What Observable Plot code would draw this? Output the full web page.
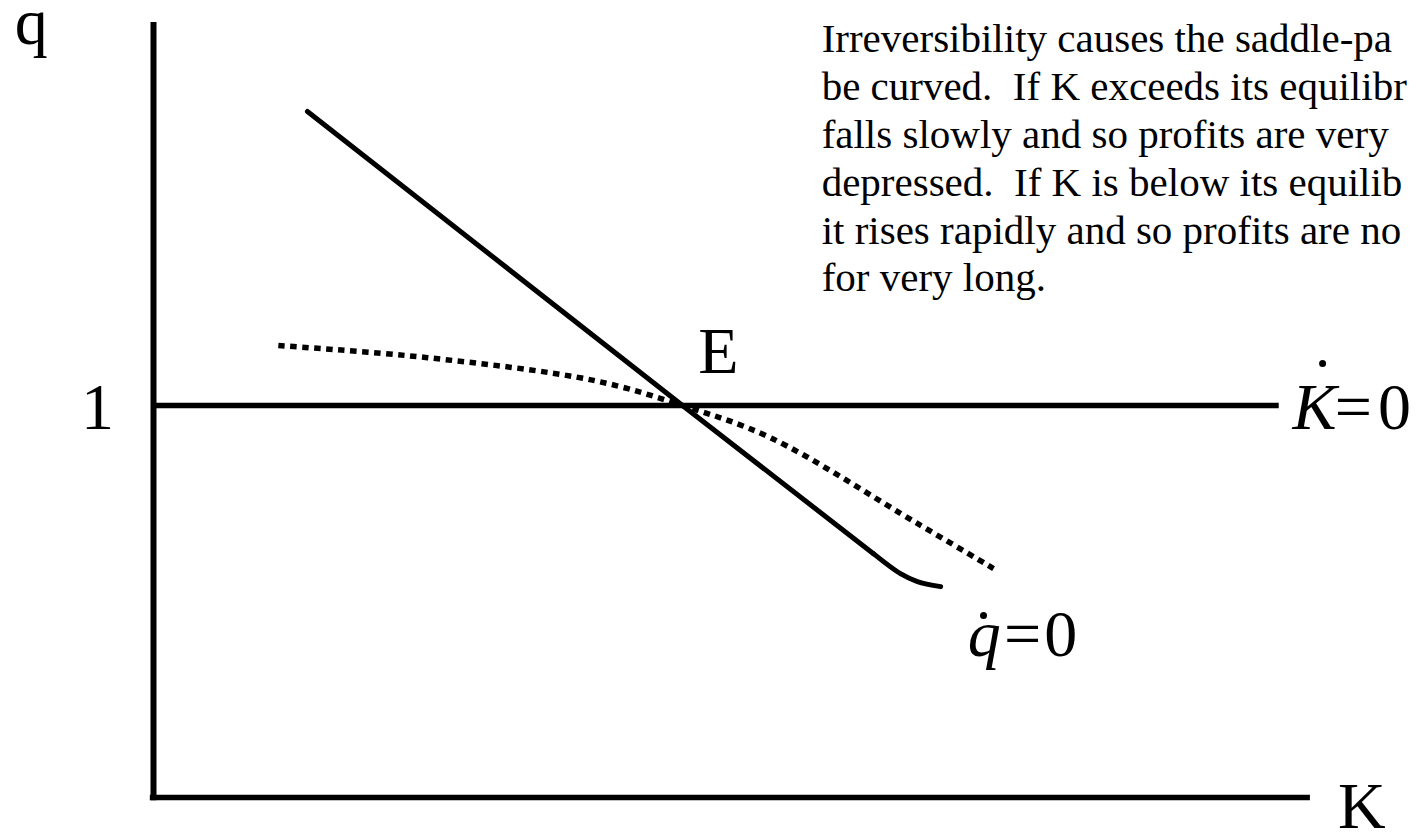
<!DOCTYPE html>
<html>
<head>
<meta charset="utf-8">
<script src="https://cdn.jsdelivr.net/npm/d3@7"></script>
<script src="https://cdn.jsdelivr.net/npm/@observablehq/plot@0.6"></script>
<style>
  html, body { margin: 0; padding: 0; background: #fff; overflow: hidden; }
  #chart svg { display: block; }
</style>
</head>
<body>
<div id="chart"></div>
<script>
// Saddle path (straight part through E, then the curved tail)
const saddleK = [0.291, 1.0, 1.361];
const saddleQ = [1.750, 1.0, 0.622];
const tailK = [1.361, 1.412, 1.444, 1.488];
const tailQ = [0.622, 0.571, 0.551, 0.538];
// q-dot = 0 locus (dotted)
const locusK = [0.236, 0.518, 0.832, 1.0, 1.166, 1.444, 1.588];
const locusQ = [1.153, 1.122, 1.064, 1.0, 0.918, 0.699, 0.584];
// K-dot = 0 locus (q = 1)
const steadyQ = [1];
const steadyEnd = 2.128;
// axes extents
const kAxisEnd = 2.187;
const qAxisEnd = 1.977;

const paragraph = [
  "Irreversibility causes the saddle-pa",
  "be curved.  If K exceeds its equilibr",
  "falls slowly and so profits are very",
  "depressed.  If K is below its equilib",
  "it rises rapidly and so profits are no",
  "for very long."
];

// annotation anchors (data units)
const bigLabels = [
  {k: -0.231, q: 1.923, t: "q"},
  {k: -0.106, q: 0.941, t: "1"},
  {k: 1.068, q: 1.084, t: "E"},
  {k: 2.284, q: -0.077, t: "K"}
];
const eqItalic = [
  {k: 2.153, q: 0.941, t: "K"},
  {k: 1.539, q: 0.362, t: "q"}
];
const eqUpright = [
  {k: 2.268, q: 0.941, t: "="},
  {k: 2.346, q: 0.941, t: "0"},
  {k: 1.643, q: 0.362, t: "="},
  {k: 1.715, q: 0.362, t: "0"}
];
const eqDots = [
  {k: 2.210, q: 1.107},
  {k: 1.569, q: 0.464}
];
const noteAnchor = [{k: 1.263, q: 1.291, t: paragraph.join("\n")}];

const serif = "'Liberation Serif', 'Times New Roman', serif";

const chart = Plot.plot({
  width: 1416,
  height: 832,
  margin: 0,
  x: {domain: [0, 1], range: [153, 682], axis: null},
  y: {domain: [0, 1], range: [797, 405], axis: null},
  style: {background: "white", color: "black"},
  marks: [
    Plot.ruleX([0], {y1: -0.008, y2: qAxisEnd, stroke: "black", strokeWidth: 6}),
    Plot.ruleY([0], {x1: -0.006, x2: kAxisEnd, stroke: "black", strokeWidth: 5.5}),
    Plot.ruleY(steadyQ, {x1: 0, x2: steadyEnd, stroke: "black", strokeWidth: 5.5}),
    Plot.line(d3.zip(locusK, locusQ), {
      x: d => d[0], y: d => d[1], curve: "catmull-rom",
      stroke: "black", strokeWidth: 5.5, strokeDasharray: "6.5 5.5", strokeLinecap: "butt"
    }),
    Plot.line(d3.zip(saddleK, saddleQ), {
      x: d => d[0], y: d => d[1], stroke: "black", strokeWidth: 5
    }),
    Plot.line(d3.zip(tailK, tailQ), {
      x: d => d[0], y: d => d[1], curve: "catmull-rom", stroke: "black", strokeWidth: 5
    }),
    Plot.text(bigLabels, {
      x: "k", y: "q", text: "t", fontSize: 66, fontFamily: serif,
      textAnchor: "middle", lineAnchor: "bottom", fill: "black"
    }),
    Plot.text(eqItalic, {
      x: "k", y: "q", text: "t", fontSize: 66, fontFamily: serif, fontStyle: "italic",
      textAnchor: "start", lineAnchor: "bottom", fill: "black"
    }),
    Plot.text(eqUpright, {
      x: "k", y: "q", text: "t", fontSize: 66, fontFamily: serif,
      textAnchor: "middle", lineAnchor: "bottom", fill: "black"
    }),
    Plot.dot(eqDots, {x: "k", y: "q", r: 3.5, fill: "black", stroke: "none"}),
    Plot.text(noteAnchor, {
      x: "k", y: "q", text: "t", fontSize: 41, fontFamily: serif,
      textAnchor: "start", lineAnchor: "bottom", lineHeight: 1.166, fill: "black"
    })
  ]
});
document.getElementById("chart").appendChild(chart);
</script>
</body>
</html>
